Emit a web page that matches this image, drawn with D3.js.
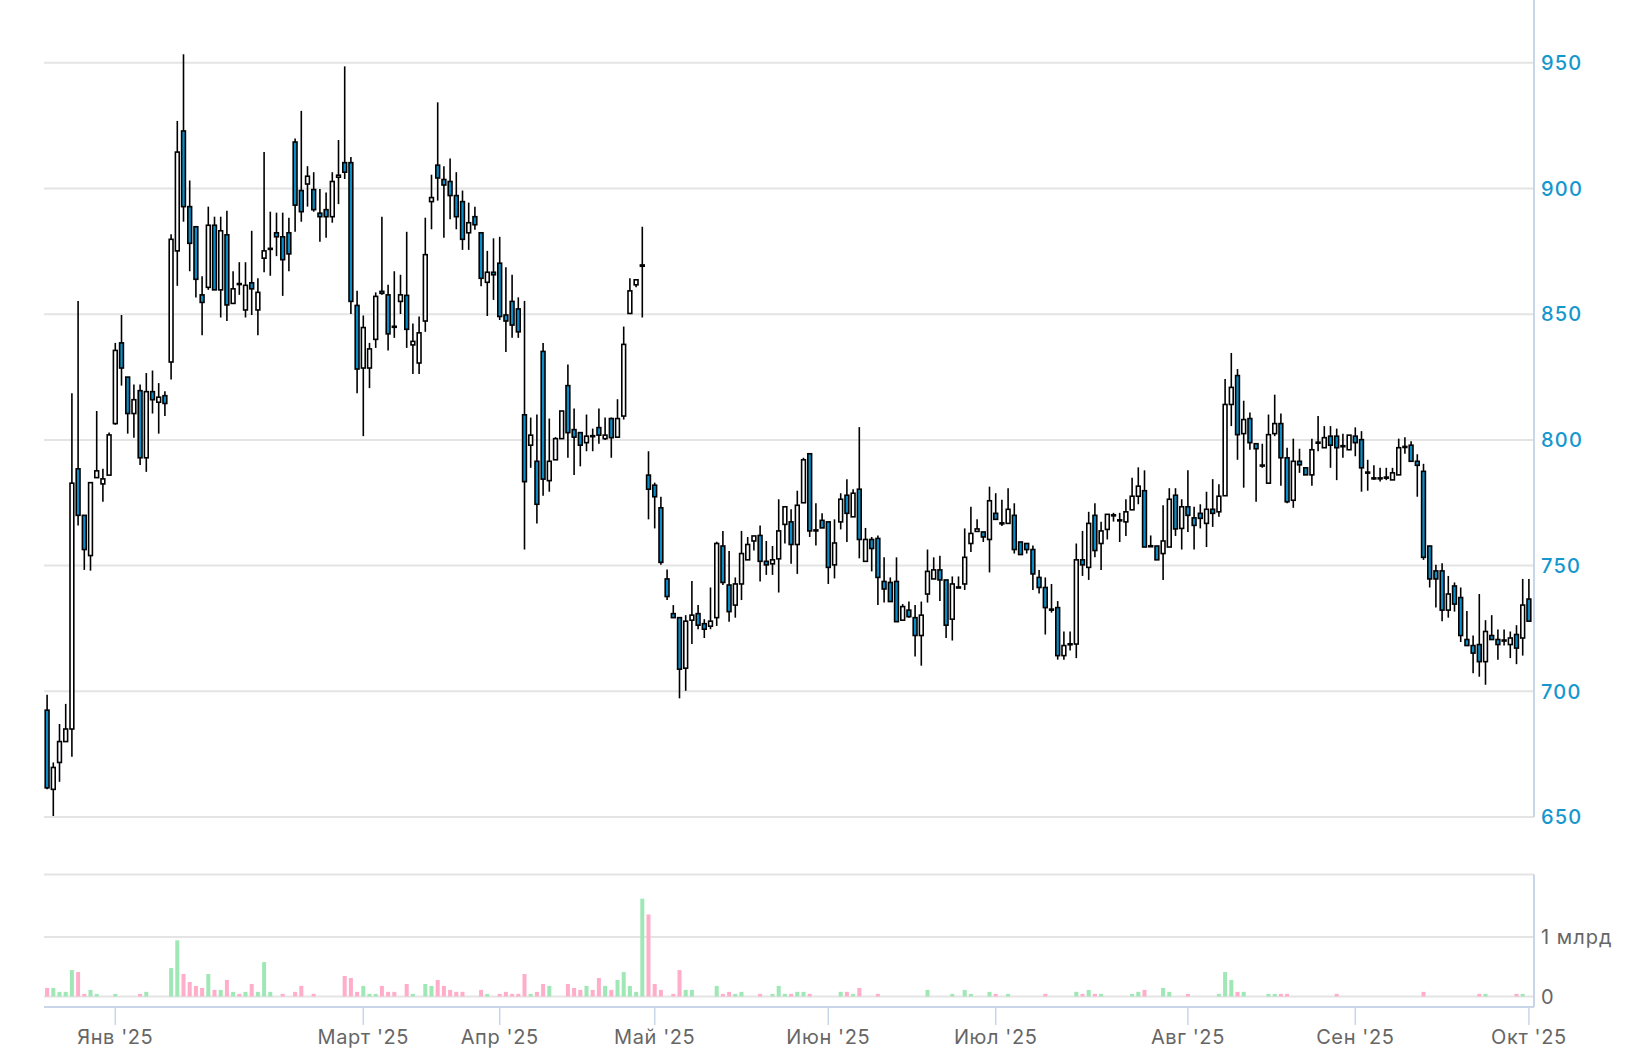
<!DOCTYPE html>
<html>
<head>
<meta charset="utf-8">
<script src="https://cdn.jsdelivr.net/npm/d3@7"></script>
<style>
  body { margin: 0; background: #fff; }
  svg { display: block; }
  .ylab { font-family: Inter, "Noto Sans", sans-serif; font-size: 20px; font-weight: 500; fill: #1597cd; letter-spacing: 1.2px; }
  .vlab { font-family: Inter, "Noto Sans", sans-serif; font-size: 20px; fill: #666; letter-spacing: 1px; }
  .xlab { font-family: Inter, "Noto Sans", sans-serif; font-size: 20px; fill: #666; letter-spacing: 0.6px; }
</style>
</head>
<body>
<script>
// daily candles, oldest first
var opens = [692.5,661,671.7,680,685,788.5,770,754,785,782.5,786,806.5,838.6,825,810.5,819.6,792.9,819.2,815,817.6,
  831,875.2,922.9,892.8,884.8,857.7,860.7,885.4,859.7,881.6,854.3,862.2,851.7,862.5,851.7,872.3,875.8,882.4,880.8,882.4,
  918.5,899.2,901.8,899.6,890.2,891.6,888.8,904.5,910.3,910.3,853.5,828.6,828.6,840,859.1,857.7,845.2,855.1,857.5,837.8,
  830.6,847.3,894.8,909.3,903.6,902.8,897.2,894.8,882.4,888.8,882.4,862.7,866.7,870.3,849.7,855.1,852.1,810,797.9,791.5,
  835.2,783.8,792.1,800.5,821.6,804.1,802.9,798.9,801.7,804.9,800.5,808.5,801.1,809.5,850.3,861.7,869.1,786,782,773,
  744.7,730.9,729.3,709.2,728.3,730.9,726.9,725.9,729.3,757.8,742.3,734.3,742.7,752.3,759.8,762,751.7,750.7,752.7,766.4,
  767.4,758.4,775,794.5,764.2,768,767.4,750.3,767.4,778,769.4,780.4,751.7,760.4,760.8,743.7,743.3,743.7,728.3,732.3,
  729.3,722.2,738.7,744.7,748.3,744.3,728.7,741.1,742.7,758.8,763.6,763.4,760.4,770.8,766.6,766.8,770,759.4,758.8,756.4,
  745.3,741.3,732.7,733.3,714.2,718.6,718.8,752.3,749.3,770,758.8,764.4,769.8,768,767.4,772.2,777.6,779.8,757.9,757.8,
  754.8,757.4,778,764.8,773.4,769,770.8,766.8,772.4,771.4,777.8,814.1,825.6,802.5,808.5,798.5,790,782.8,802.5,806.5,
  792.9,776,791.5,788.9,786.1,798.7,796.9,801.5,801.5,797.7,796.1,801.5,800.1,787.2,784.9,784.9,785,784.1,786.1,797,
  797.9,791.5,787.5,757.8,747.9,747.9,732.3,741.9,737.3,720.6,718.2,718.6,711.8,722.2,720.6,720.4,718.6,722.6,721.2,736.7];
var highs = [698.6,671.7,687,695,818.6,855.3,770,783,811.5,788.5,803,838.6,849.7,825,822,822,826.6,827.6,822.6,819.4,
  881.8,926.9,953.4,903.2,884.8,865.1,892.8,888.8,888.8,891.2,867.1,870.7,870.7,883.2,864.3,914.5,890.8,890.4,890.4,888.4,
  919.9,930.9,908.9,906.5,899.8,898.4,906.5,919.3,948.6,912.5,859.3,849.5,838.6,858.7,888.8,861.7,867.1,865.7,882.8,846.3,
  849.1,888.4,905.5,934.3,908.9,911.9,906.5,899.2,894.4,892.8,882.4,875.2,880.2,880.8,868.7,865.7,856.7,855.3,808.9,810.1,
  838.6,808.5,801.1,811.5,830,812.5,802.9,810.1,804.5,812.5,808.9,808.9,816.2,845.1,864.3,863.7,884.8,795.5,783,777.4,
  748.5,734.3,729.3,730.3,743.9,734.3,728.7,741.3,759.5,763.8,755.8,745.3,763.8,761.4,761.8,766,759.8,757.8,776.4,773.4,
  772.4,779.8,792.9,794.5,774.8,770.8,767.4,768.4,778.8,784.4,780.4,805.1,765,761.4,762,753.3,745.3,753.3,734.7,735.7,
  734.3,735.7,756.4,753.3,753.9,744.3,745.7,745.7,764.8,773.4,768.4,763.4,781.4,778.8,776.2,780.8,774.8,759.4,758.8,758,
  748.3,745.3,742.7,735.9,723.8,723.8,758.8,763.8,771.4,774.8,767.4,770.4,771,771,776.4,785,789.1,787.9,762,757.8,
  774,780.8,780.8,776.4,787.9,773.4,774.4,779.4,784.4,782.4,824.2,834.6,828.2,815.6,810.9,798.5,798.5,810.1,818,810.5,
  796.9,800.5,796.5,788.9,800.5,809.5,805.5,805.5,804.5,802.5,801.9,805,803.5,792.1,789.9,788.9,788.9,788.9,800.5,801.1,
  799.5,794.3,790.5,757.8,750.3,750.9,745.9,743.3,741.3,731.9,722.2,738.7,728.3,730.3,724.6,724.6,723.8,726.3,744.7,744.7];
var lows = [661,650.4,664,680,674,766,748.3,748,785,775.4,786,806,821.6,802.5,800.9,790,787.3,810.5,802.5,809.5,
  824,861.3,886.8,867.1,856.7,841.6,859.7,859.7,848.7,847.3,854.3,857.7,848.7,849.7,841.6,866.7,865.3,873.1,857.3,867.1,
  882.8,886.8,892.8,890.8,878.8,880.4,886.4,893.8,903.8,850.1,818.6,801.5,820.6,836.6,857.7,835.6,840.6,850.1,836.6,826.2,
  826.2,843,883.8,895.2,880.4,887.8,883.8,875.6,875.6,883.6,861.1,849.3,855.7,847.7,835,840.6,840.6,756.4,788.9,766.8,
  777.8,779.4,792.1,800.5,792.9,786,789.5,795.5,795.5,798.5,800,792.9,801.1,808.1,850.3,860.7,848.7,768.4,764.8,750.3,
  736.3,729.3,697.2,700.2,718.8,724.7,721.2,724.7,726,742.3,727.7,729.3,736.3,752.3,756,743.7,746.3,746.3,739.3,758.8,
  750.7,746.7,775,761.4,758,765,742.7,744.9,764.4,759.4,769.4,752.9,751.7,747.7,734.3,735.3,735.7,727.7,728.3,729.3,
  713.8,710.2,735.3,744.7,735.9,721.2,720.2,741.1,740.3,755.4,763.4,759.4,747.3,768.4,765.8,766.8,754.8,754.4,754.8,740.3,
  738.9,722.6,731.3,712.6,712.6,716.2,713.2,745.9,744.3,753.3,748.3,760.4,767.5,759.4,761.8,772.2,774.4,757.4,757.4,752.3,
  744.3,757.4,761.8,756.4,763.4,756.4,764.8,757.4,765.4,769.4,777.8,805.5,792.1,781,796.1,775.4,788.9,782.8,801.5,781.8,
  774.8,773,786.9,786.1,781.8,795.5,796.9,788.9,784,792.9,796.1,793.5,779.4,779.8,784.2,783.5,784,784.1,786.1,794.5,
  791.5,777.4,752.3,741.3,733.3,727.9,729.3,731.7,719.6,718.2,707.2,705.8,702.6,720.6,712.6,718.2,713.2,710.8,714.2,727.9];
var closes = [661.6,669.7,680,685,782.8,770,756.4,783,787.7,784.5,802,835.6,828.6,810.5,816,792.9,819.2,816,817,814.5,
  879.8,914.5,892.8,878.2,863.9,854.7,885.4,859.7,883.2,853.7,860.1,861.8,861.5,860.1,858.7,875.2,876.2,880.8,871.7,874,
  893.4,890.8,904.9,891.6,888.8,888.8,902.8,905.3,906.5,855.1,828.2,844.7,836.2,857.1,858.3,842.2,844.8,857.7,844,839.2,
  842.6,873.7,896.4,904.2,901.4,897.2,888.8,879.8,886.4,885.6,864.3,866.7,865.7,849.1,847.3,845.7,843,783.4,801.9,774.4,
  784.4,791.5,800.5,811.5,802.9,801.1,797.9,801.5,801.3,801.9,801.9,800.9,808.5,838,859.3,863.7,869.6,780.4,777.4,751.3,
  737.7,729.3,708.8,727.9,730.3,726.3,724.7,727.9,758.8,743.3,731.7,742.7,754.8,758.4,761.8,751.7,750.3,752.3,763.8,773.4,
  758.4,774,792.1,763.8,763.8,765,749.3,759,776.4,770.8,778.8,760.4,760.4,756.8,745.3,740.7,735.7,727.7,733.7,729.7,
  722.2,730.3,747.7,748.3,744.3,726.3,742.7,741.5,753.3,762.8,764.6,761.4,775.8,768.4,767,772.4,756.4,754.4,756.4,746.7,
  741.3,733.3,732.5,714.2,718.2,718.9,752.3,750.3,766.8,756,763.8,770.4,770.2,768.2,771.4,777.6,781.6,757.4,757.7,752.3,
  759.8,776.4,764.6,773.4,770,766,768.8,772.4,770.8,777.6,814.1,820.9,802.1,808.1,798.9,796.5,789.8,802.1,806.5,792.9,
  775.4,791.5,790.1,786.1,796.1,799.1,800.9,797.9,796.9,797.3,801.9,798.9,788.9,786.8,784.7,784.7,785.2,786.9,796.9,797.4,
  791.5,789.9,753.3,744.7,744.7,732.3,738.7,734.7,722.2,718.2,715.2,711.8,723.8,720.6,718.6,720,721.2,717.2,734.3,727.9];
// traded value, млн
var volumes = [144,144,78,78,444,411,44,111,44,0,0,44,0,0,0,44,78,0,0,0,
  478,944,378,244,178,144,378,111,111,278,78,44,78,211,78,578,78,0,44,0,
  78,178,0,44,0,0,0,0,344,311,78,178,44,44,178,78,78,0,211,44,
  0,211,178,278,178,111,78,78,0,0,111,44,0,44,78,44,44,378,44,78,
  211,178,0,0,211,144,111,178,111,311,178,111,278,411,178,78,1644,1378,211,111,
  0,44,444,111,111,0,0,0,178,44,78,44,78,0,0,44,0,44,178,44,
  44,78,78,44,0,0,0,0,78,78,44,144,0,0,44,0,0,0,0,0,
  0,0,111,0,0,0,44,0,111,44,0,0,78,44,0,44,0,0,0,0,
  0,44,0,0,0,0,78,44,111,44,44,0,0,0,0,44,78,111,0,0,
  144,78,0,0,44,0,0,0,0,44,411,278,78,78,0,0,0,44,44,44,
  44,0,0,0,0,0,0,0,44,0,0,0,0,0,0,0,0,0,0,0,
  0,0,78,0,0,0,0,0,0,0,0,44,44,0,0,0,0,44,44,0];

var monthLabels = ["Янв '25", "Март '25", "Апр '25", "Май '25", "Июн '25", "Июл '25", "Авг '25", "Сен '25", "Окт '25"];
var monthIdx = [11, 51, 73, 98, 126, 153, 184, 211, 239];
var priceTicks = [650, 700, 750, 800, 850, 900, 950];
var volTicks = [0, 1000];
var volTickLabels = ["0", "1 млрд"];

var width = 1641, height = 1052;
var left = 44, right = 1534;

var data = opens.map(function(o, i) {
  return { i: i, open: o, high: highs[i], low: lows[i], close: closes[i], vol: volumes[i] };
});

var svg = d3.select("body").append("svg")
  .attr("width", width)
  .attr("height", height);

var x = d3.scaleBand()
  .domain(d3.range(data.length))
  .range([left, right - 2]);
var y = d3.scaleLinear().domain([650, 975]).range([817, 0]);
var vy = d3.scaleLinear().domain([0, 2050]).range([996.5, 874.5]);

function cx(d) { return x(d.i) + x.bandwidth() / 2; }

// gridlines
svg.append("g")
  .selectAll("line")
  .data(priceTicks)
  .enter().append("line")
  .attr("x1", left).attr("x2", right)
  .attr("y1", function(d) { return y(d); })
  .attr("y2", function(d) { return y(d); })
  .attr("stroke", "#e4e4e4")
  .attr("stroke-width", 2);

svg.append("g")
  .selectAll("line")
  .data(volTicks.concat([vy.domain()[1]]))
  .enter().append("line")
  .attr("x1", left).attr("x2", right)
  .attr("y1", function(d) { return vy(d); })
  .attr("y2", function(d) { return vy(d); })
  .attr("stroke", "#e4e4e4")
  .attr("stroke-width", 2);

// right axis lines
svg.append("line")
  .attr("x1", right).attr("x2", right)
  .attr("y1", 0).attr("y2", y(650))
  .attr("stroke", "#c9d6ea").attr("stroke-width", 2);
svg.append("line")
  .attr("x1", right).attr("x2", right)
  .attr("y1", vy.range()[1]).attr("y2", 1007)
  .attr("stroke", "#c9d6ea").attr("stroke-width", 2);

// volume bars
svg.append("g")
  .selectAll("rect")
  .data(data.filter(function(d) { return d.vol > 0; }))
  .enter().append("rect")
  .attr("x", function(d) { return cx(d) - 2; })
  .attr("width", 4)
  .attr("y", function(d) { return vy(d.vol); })
  .attr("height", function(d) { return vy(0) - vy(d.vol); })
  .attr("fill", function(d) { return d.close >= d.open ? "#9fe8b6" : "#ffadc8"; });

// candles
var candle = svg.append("g")
  .selectAll("g")
  .data(data)
  .enter().append("g");

candle.append("line")
  .attr("x1", cx).attr("x2", cx)
  .attr("y1", function(d) { return y(d.high); })
  .attr("y2", function(d) { return y(d.low); })
  .attr("stroke", "#000")
  .attr("stroke-width", 1.6);

candle.append("rect")
  .attr("x", function(d) { return cx(d) - 1.9; })
  .attr("width", 3.8)
  .attr("y", function(d) { return y(Math.max(d.open, d.close)); })
  .attr("height", function(d) { return Math.max(1, Math.abs(y(d.open) - y(d.close))); })
  .attr("fill", function(d) { return d.close >= d.open ? "#fff" : "#0a8dc6"; })
  .attr("stroke", "#000")
  .attr("stroke-width", 1.6);

// price labels
svg.append("g")
  .selectAll("text")
  .data(priceTicks)
  .enter().append("text")
  .attr("class", "ylab")
  .attr("x", right + 7)
  .attr("y", function(d) { return y(d); })
  .attr("dy", "0.36em")
  .text(function(d) { return d; });

// volume labels
svg.append("g")
  .selectAll("text")
  .data(volTicks)
  .enter().append("text")
  .attr("class", "vlab")
  .attr("x", right + 7)
  .attr("y", function(d) { return vy(d); })
  .attr("dy", "0.36em")
  .text(function(d, i) { return volTickLabels[i]; });

// bottom axis
svg.append("line")
  .attr("x1", left).attr("x2", right)
  .attr("y1", 1007).attr("y2", 1007)
  .attr("stroke", "#c9d6ea").attr("stroke-width", 2);

var ticks = svg.append("g")
  .selectAll("g")
  .data(monthIdx)
  .enter().append("g")
  .attr("transform", function(d) { return "translate(" + (x(d) + x.bandwidth() / 2) + ",0)"; });
ticks.append("line")
  .attr("y1", 1007).attr("y2", 1025)
  .attr("stroke", "#c9d6ea").attr("stroke-width", 1.5);
ticks.append("text")
  .attr("class", "xlab")
  .attr("y", 1044)
  .attr("text-anchor", "middle")
  .text(function(d, i) { return monthLabels[i]; });
</script>
</body>
</html>
